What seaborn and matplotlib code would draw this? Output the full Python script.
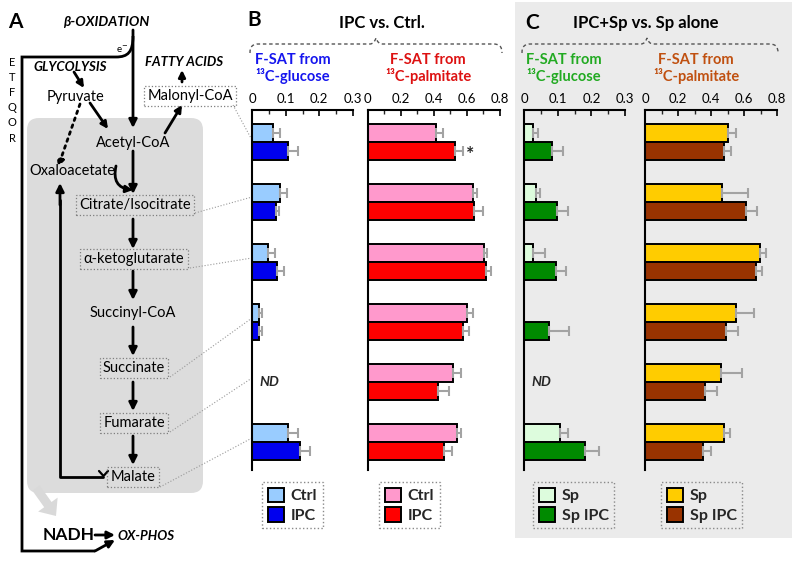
import numpy as np
import pandas as pd
import matplotlib
matplotlib.use("Agg")
import matplotlib.pyplot as plt
import seaborn as sns
from matplotlib.patches import FancyBboxPatch, Rectangle, FancyArrow, PathPatch
from matplotlib.path import Path

nan = np.nan
metabolites = ['Malonyl-CoA', 'Citrate/Isocitrate', 'α-ketoglutarate', 'Succinate', 'Fumarate', 'Malate']

# Panel B (IPC vs Ctrl)
b_glc_ctrl = [0.061, 0.083, 0.046, 0.020, nan, 0.108]
b_glc_ctrl_err = [0.022, 0.020, 0.022, 0.010, nan, 0.030]
b_glc_ipc = [0.108, 0.070, 0.073, 0.020, nan, 0.144]
b_glc_ipc_err = [0.030, 0.010, 0.023, 0.010, nan, 0.029]
b_pal_ctrl = [0.415, 0.642, 0.707, 0.606, 0.521, 0.545]
b_pal_ctrl_err = [0.040, 0.024, 0.016, 0.036, 0.045, 0.020]
b_pal_ipc = [0.533, 0.647, 0.717, 0.576, 0.428, 0.465]
b_pal_ipc_err = [0.044, 0.050, 0.032, 0.040, 0.067, 0.045]
# Panel C (IPC+Sp vs Sp)
c_glc_sp = [0.027, 0.035, 0.025, 0.0, nan, 0.106]
c_glc_sp_err = [0.015, 0.012, 0.037, nan, nan, 0.025]
c_glc_spipc = [0.082, 0.096, 0.093, 0.074, nan, 0.181]
c_glc_spipc_err = [0.033, 0.035, 0.031, 0.060, nan, 0.043]
c_pal_sp = [0.505, 0.469, 0.697, 0.551, 0.460, 0.480]
c_pal_sp_err = [0.046, 0.157, 0.034, 0.110, 0.125, 0.036]
c_pal_spipc = [0.480, 0.610, 0.671, 0.489, 0.364, 0.353]
c_pal_spipc_err = [0.044, 0.067, 0.040, 0.073, 0.070, 0.050]

glc_ticks = [0, 0.1, 0.2, 0.3]
pal_ticks = [0, 0.2, 0.4, 0.6, 0.8]
b_labels = ['Ctrl', 'IPC']
c_labels = ['Sp', 'Sp IPC']

sns.set_style('white')
plt.rcParams['font.family'] = ['Lato', 'DejaVu Sans']

W, H = 800, 561
fig = plt.figure(figsize=(8.0, 5.61), dpi=100)
ax0 = fig.add_axes([0, 0, 1, 1])
ax0.set_xlim(0, W)
ax0.set_ylim(H, 0)
ax0.axis('off')

# ---------- Panel C background ----------
ax0.add_patch(Rectangle((515, 2), 277, 536, fc='#ebebeb', ec='none', zorder=0))

# ---------- Panel A diagram ----------
ax0.add_patch(FancyBboxPatch((27, 118), 176, 375, boxstyle='round,pad=0,rounding_size=12',
                             fc='#dcdcdc', ec='none', zorder=0))
ax0.add_patch(FancyArrow(36, 488, 20, 28, width=9, head_width=24, head_length=14,
                         length_includes_head=True, fc='#d9d9d9', ec='none', zorder=0))

def arrow(x1, y1, x2, y2, ls='-', lw=2.0, ms=12, cs='arc3'):
    ax0.annotate('', xy=(x2, y2), xytext=(x1, y1),
                 arrowprops=dict(arrowstyle='-|>', color='black', lw=lw, linestyle=ls,
                                 mutation_scale=ms, shrinkA=0, shrinkB=0,
                                 connectionstyle=cs), zorder=3)

def txt(x, y, s, size=10.5, weight='normal', style='normal', ha='center', color='black', box=False):
    kw = {}
    if box:
        kw['bbox'] = dict(boxstyle='square,pad=0.22', fc='none', ec='#7f7f7f', ls=':', lw=0.9)
    ax0.text(x, y, s, fontsize=size, fontweight=weight, fontstyle=style, ha=ha, va='center',
             color=color, zorder=4, **kw)

txt(15, 22, 'A', size=15, weight='bold')
txt(106, 22, 'β-OXIDATION', size=10, weight='bold', style='italic')
for i, ch in enumerate('ETFQOR'):
    txt(12, 62 + i * 15.2, ch, size=8)
txt(122, 49, 'e$^{-}$', size=7)
txt(70, 67, 'GLYCOLYSIS', size=9.5, weight='bold', style='italic')
txt(184, 62, 'FATTY ACIDS', size=9.5, weight='bold', style='italic')
txt(76, 97, 'Pyruvate', size=10.5)
txt(190, 96, 'Malonyl-CoA', size=10.5, box=True)
txt(133, 143, 'Acetyl-CoA', size=10.5)
txt(72, 171, 'Oxaloacetate', size=10.5)
txt(135, 205, 'Citrate/Isocitrate', size=10.5, box=True)
txt(134, 259, 'α-ketoglutarate', size=10.5, box=True)
txt(133, 313, 'Succinyl-CoA', size=10.5)
txt(134, 368, 'Succinate', size=10.5, box=True)
txt(134, 423, 'Fumarate', size=10.5, box=True)
txt(133, 477, 'Malate', size=10.5, box=True)
txt(69, 535, 'NADH', size=12.5, weight='bold')
txt(117, 536, 'OX-PHOS', size=9.5, weight='bold', style='italic', ha='left')

arrow(133, 30, 133, 128)
arrow(74, 72, 84, 88, ms=10)
arrow(90, 103, 108, 129, ms=10)
arrow(80, 104, 58, 167, ls=':', ms=10)
arrow(165, 133, 182, 105, ms=10)
arrow(182, 82, 182, 70, ms=10)
arrow(133, 151, 133, 194)
arrow(116, 166, 133, 190, cs='arc3,rad=0.55', ms=10)
arrow(133, 219, 133, 249)
arrow(133, 271, 133, 300)
arrow(133, 327, 133, 356)
arrow(133, 382, 133, 411)
arrow(133, 436, 133, 465)
arrow(95, 535, 115, 535, ms=11)

# Malate -> Oxaloacetate loop
ax0.plot([103, 60, 60], [477, 477, 200], color='black', lw=2, zorder=3)
arrow(60, 205, 60, 183)
ax0.plot([99, 103.5, 108], [471, 476, 471], color='black', lw=1.6, zorder=3)

# beta-oxidation e- branch to OX-PHOS
verts = [(133, 36), (133, 52), (128, 57), (116, 57), (22, 57), (22, 551), (95, 551)]
codes = [Path.MOVETO, Path.CURVE4, Path.CURVE4, Path.CURVE4, Path.LINETO, Path.LINETO, Path.LINETO]
ax0.add_patch(PathPatch(Path(verts, codes), fc='none', ec='black', lw=2, zorder=3))
arrow(95, 551, 115, 540, ms=11)

# dotted connectors
for (x1, y1), (x2, y2) in [((233, 105), (252, 140)), ((195, 213), (252, 197)),
                           ((190, 268), (252, 258)), ((170, 377), (252, 318)),
                           ((170, 432), (252, 378)), ((160, 487), (252, 438))]:
    ax0.plot([x1, x2], [y1, y2], color='#9a9a9a', lw=0.8, ls=':', zorder=2)

# ---------- headings and braces ----------
def brace(x1, x2, xm, y=44):
    verts = [(x1, y + 9), (x1, y + 2), (x1 + 3, y), (x1 + 9, y),
             (xm - 6, y), (xm - 2, y), (xm, y - 6),
             (xm + 2, y), (xm + 6, y),
             (x2 - 9, y), (x2 - 3, y), (x2, y + 2), (x2, y + 9)]
    codes = [Path.MOVETO, Path.CURVE4, Path.CURVE4, Path.CURVE4,
             Path.LINETO, Path.CURVE3, Path.CURVE3, Path.CURVE3, Path.CURVE3,
             Path.LINETO, Path.CURVE4, Path.CURVE4, Path.CURVE4]
    ax0.add_patch(PathPatch(Path(verts, codes), fc='none', ec='#555555', lw=1.0,
                            ls=(0, (2.5, 2)), zorder=3))

txt(254, 20, 'B', size=15, weight='bold')
txt(382, 23, 'IPC vs. Ctrl.', size=12, weight='bold')
brace(250, 502, 376)
txt(293, 60, 'F-SAT from', size=10.5, weight='bold', color='#1515ee')
txt(293, 76, '¹³C-glucose', size=10.5, weight='bold', color='#1515ee')
txt(428, 60, 'F-SAT from', size=10.5, weight='bold', color='#dd1111')
txt(428, 76, '¹³C-palmitate', size=10.5, weight='bold', color='#dd1111')

txt(532, 23, 'C', size=15, weight='bold')
txt(646, 23, 'IPC+Sp vs. Sp alone', size=12, weight='bold')
brace(522, 778, 647)
txt(564, 60, 'F-SAT from', size=10.5, weight='bold', color='#22aa22')
txt(564, 76, '¹³C-glucose', size=10.5, weight='bold', color='#22aa22')
txt(696, 60, 'F-SAT from', size=10.5, weight='bold', color='#c05010')
txt(696, 76, '¹³C-palmitate', size=10.5, weight='bold', color='#c05010')

# ---------- bar panels ----------
TOP, BOT = 109.5, 470
pos = np.arange(len(metabolites))

def bar_panel(x0, x1, ticks, v1, e1, v2, e2, labels, colors, leg_xy, nd=False, star=None):
    rect = [x0 / W, 1 - BOT / H, (x1 - x0) / W, (BOT - TOP) / H]
    ax = fig.add_axes(rect)
    df = pd.DataFrame({'metabolite': metabolites * 2,
                       'value': list(v1) + list(v2),
                       'group': [labels[0]] * 6 + [labels[1]] * 6})
    sns.barplot(data=df, x='value', y='metabolite', hue='group', order=metabolites,
                hue_order=labels, palette=colors, orient='h', width=0.6, errorbar=None,
                edgecolor='black', linewidth=1.4, saturation=1, ax=ax)
    for vals, errs, off in [(v1, e1, -0.15), (v2, e2, 0.15)]:
        v = np.array(vals, float)
        e = np.array(errs, float)
        m = ~np.isnan(e)
        ax.errorbar(v[m], pos[m] + off, xerr=[np.zeros(m.sum()), e[m]], fmt='none',
                    ecolor='#a3a3a3', elinewidth=1.5, capsize=3.5, capthick=1.5, zorder=1)
    xmax = ticks[-1]
    ax.set_xlim(0, xmax)
    ax.set_ylim(5.47, -0.55)
    ax.set_xticks(ticks)
    ax.set_xticklabels([f'{t:g}' for t in ticks])
    step = ticks[1] - ticks[0]
    ax.set_xticks(np.arange(0, xmax + 1e-9, step / 2), minor=True)
    ax.xaxis.set_ticks_position('top')
    ax.tick_params(axis='x', which='major', direction='in', top=True, bottom=False,
                   length=4.5, width=1.2, pad=3, labelsize=9.5, colors='black')
    ax.tick_params(axis='x', which='minor', direction='in', top=True, bottom=False,
                   length=3, width=1.0)
    ax.set_yticks([])
    ax.set_xlabel('')
    ax.set_ylabel('')
    for s in ['right', 'bottom']:
        ax.spines[s].set_visible(False)
    for s in ['left', 'top']:
        ax.spines[s].set_visible(True)
        ax.spines[s].set_color('black')
        ax.spines[s].set_linewidth(1.5)
    ax.patch.set_alpha(0)
    if nd:
        ax.text(0.022 * xmax / 0.3, 4, 'ND', fontsize=10, fontweight='bold', fontstyle='italic',
                va='center', ha='left')
    if star is not None:
        i = star
        ax.text(v2[i] + e2[i] + 0.022, i + 0.2, '*', fontsize=14, fontweight='bold',
                va='center', ha='left')
    sns.move_legend(ax, 'upper left', bbox_to_anchor=(leg_xy[0] / W, 1 - leg_xy[1] / H),
                    bbox_transform=fig.transFigure, title=None, frameon=True, fancybox=False,
                    edgecolor='#8a8a8a', facecolor='none', framealpha=1,
                    handlelength=1.05, handleheight=1.05, handletextpad=0.4,
                    labelspacing=0.22, borderpad=0.35, borderaxespad=0,
                    prop={'weight': 'bold', 'size': 11.5})
    leg = ax.get_legend()
    leg.get_frame().set_linestyle(':')
    leg.get_frame().set_linewidth(1.0)
    return ax

bar_panel(252.3, 352.7, glc_ticks, b_glc_ctrl, b_glc_ctrl_err, b_glc_ipc, b_glc_ipc_err,
          b_labels, ['#99ccff', '#0000ee'], (262, 482), nd=True)
bar_panel(367.5, 499.5, pal_ticks, b_pal_ctrl, b_pal_ctrl_err, b_pal_ipc, b_pal_ipc_err,
          b_labels, ['#ff99cc', '#ff0000'], (379, 482), star=0)
bar_panel(524.3, 625.0, glc_ticks, c_glc_sp, c_glc_sp_err, c_glc_spipc, c_glc_spipc_err,
          c_labels, ['#ddfcdd', '#008a00'], (533, 482), nd=True)
bar_panel(645.0, 777.0, pal_ticks, c_pal_sp, c_pal_sp_err, c_pal_spipc, c_pal_spipc_err,
          c_labels, ['#ffcc00', '#993300'], (661, 482))

fig.savefig('out.png', dpi=100)
